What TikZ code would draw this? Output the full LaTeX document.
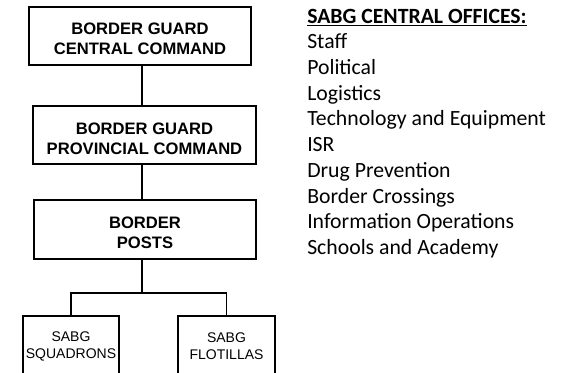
\documentclass[tikz,border=0pt]{standalone}
\usepackage{fontspec}
\setmainfont{Liberation Sans}
\newfontfamily\calib{Carlito}
\newcommand\bxtext[1]{\raisebox{-3.75pt}[\height][\depth]{\begin{tabular}{@{}c@{}}#1\end{tabular}}}
\begin{document}
\begin{tikzpicture}[x=0.75pt,y=-0.75pt,
  bigbox/.style={draw, line width=1.5pt, inner sep=0pt, align=center,
    font=\fontsize{12.45}{15}\selectfont\bfseries},
  smallbox/.style={draw, line width=1.1pt, inner sep=0pt, align=center,
    font=\fontsize{10.5}{12.8}\selectfont},
  conn/.style={line width=1.1pt}]
\useasboundingbox (0,0) rectangle (572,372);
\coordinate (spine) at (142,0);
\node[bigbox, minimum width=166.5pt, minimum height=43.5pt] (b1) at (140,35.5) {\bxtext{BORDER GUARD\\CENTRAL COMMAND}};
\node[bigbox, minimum width=167.25pt, minimum height=43.5pt] (b2) at (144.5,135) {\bxtext{BORDER GUARD\\PROVINCIAL COMMAND}};
\node[bigbox, minimum width=166.5pt, minimum height=44.25pt] (b3) at (145,229.5) {\bxtext{BORDER\\POSTS}};
\node[smallbox, minimum width=72pt, minimum height=46pt] (b4) at (71,346.5) {SABG\\SQUADRONS};
\node[smallbox, minimum width=72.75pt, minimum height=46pt] (b5) at (226.5,346.5) {SABG\\FLOTILLAS};
\coordinate (j) at (142,293);
\draw[conn] (b1.south -| spine) -- (b2.north -| spine);
\draw[conn] (b2.south -| spine) -- (b3.north -| spine);
\draw[conn] (b3.south -| spine) -- (j);
\draw[conn] (b4.north) |- (j) -| (b5.north);
\node[anchor=north west, inner sep=0pt, align=left,
  font=\calib\fontsize{16.3}{19.3}\selectfont] (list) at (307,8.5)
  {\textbf{\underline{SABG CENTRAL OFFICES:}}\\
   Staff\\Political\\Logistics\\Technology and Equipment\\ISR\\Drug Prevention\\Border Crossings\\Information Operations\\Schools and Academy};
\end{tikzpicture}
\end{document}
